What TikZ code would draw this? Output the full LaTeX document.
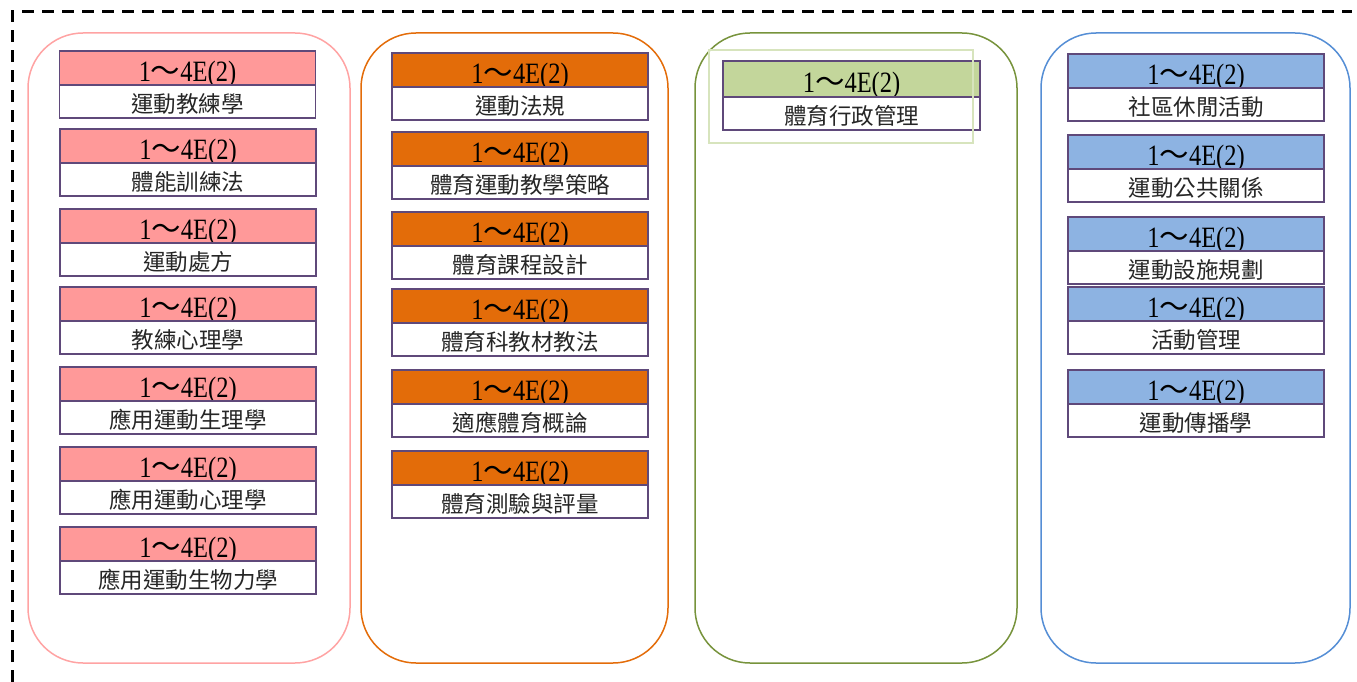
\documentclass[tikz,border=0pt]{standalone}
\usepackage{fontspec}
\setmainfont{Liberation Serif}
\newfontfamily\cjk{Noto Sans CJK TC}
\newfontfamily\numfont{Liberation Serif}[FakeStretch=0.83]
\usetikzlibrary{positioning}

\definecolor{rosa}{HTML}{FF9999}
\definecolor{rosabordo}{HTML}{FFA3A3}
\definecolor{arancio}{HTML}{E36C09}
\definecolor{verde}{HTML}{C3D69B}
\definecolor{verdebordo}{HTML}{77933C}
\definecolor{verdechiaro}{HTML}{D7E4BD}
\definecolor{azzurro}{HTML}{8DB3E2}
\definecolor{azzurrobordo}{HTML}{558ED5}
\definecolor{viola}{HTML}{5F497A}

\newcommand{\anno}{1{\cjk ～}4E(2)}

\begin{document}
\begin{tikzpicture}[x=1pt,y=-1pt,
    hdr/.style={draw=viola,line width=1.5pt,minimum width=256pt,minimum height=34pt,
        inner sep=0pt,outer sep=0pt,anchor=north,text height=27pt,text depth=0pt,
        font=\numfont\fontsize{29.5}{29.5}\selectfont},
    subj/.style={draw=viola,line width=1.5pt,fill=white,minimum width=256pt,minimum height=33pt,
        inner sep=0pt,outer sep=0pt,text=black!85,text height=22pt,text depth=0pt,
        font=\cjk\fontsize{22.5}{23}\selectfont},
    colonna/.style={line width=1.5pt,rounded corners=55pt}]
    \useasboundingbox (0,0) rectangle (1357,682);

    %%%%%%%%%% Cornice %%%%%%%%%%
    \draw[line width=3pt,dash pattern=on 12pt off 8pt] (12,682) -- (12,12) -- (1352,12);

    %%%%%%%%%% Colonne %%%%%%%%%%
    \draw[colonna,rosabordo] (28,33) rectangle (350,663);
    \draw[colonna,arancio] (361,33) rectangle (668,663);
    \draw[colonna,verdebordo] (695,33) rectangle (1017,663);
    \draw[colonna,azzurrobordo] (1041,33) rectangle (1350,663);

    %%%%%%%%%% Corsi (rosa) %%%%%%%%%%
    \node[hdr,fill=rosa] (p1h) at (187.5,51) {\anno};
    \node[subj,below=0pt of p1h] (p1b) {運動教練學};
    \node[hdr,fill=rosa] (p2h) at (188,129) {\anno};
    \node[subj,below=0pt of p2h] (p2b) {體能訓練法};
    \node[hdr,fill=rosa] (p3h) at (188,209) {\anno};
    \node[subj,below=0pt of p3h] (p3b) {運動處方};
    \node[hdr,fill=rosa] (p4h) at (188,287) {\anno};
    \node[subj,below=0pt of p4h] (p4b) {教練心理學};
    \node[hdr,fill=rosa] (p5h) at (188,367) {\anno};
    \node[subj,below=0pt of p5h] (p5b) {應用運動生理學};
    \node[hdr,fill=rosa] (p6h) at (188,447) {\anno};
    \node[subj,below=0pt of p6h] (p6b) {應用運動心理學};
    \node[hdr,fill=rosa] (p7h) at (188,527) {\anno};
    \node[subj,below=0pt of p7h] (p7b) {應用運動生物力學};

    %%%%%%%%%% Corsi (arancio) %%%%%%%%%%
    \node[hdr,fill=arancio] (o1h) at (520,53) {\anno};
    \node[subj,below=0pt of o1h] (o1b) {運動法規};
    \node[hdr,fill=arancio] (o2h) at (520,132) {\anno};
    \node[subj,below=0pt of o2h] (o2b) {體育運動教學策略};
    \node[hdr,fill=arancio] (o3h) at (520,212) {\anno};
    \node[subj,below=0pt of o3h] (o3b) {體育課程設計};
    \node[hdr,fill=arancio] (o4h) at (520,289) {\anno};
    \node[subj,below=0pt of o4h] (o4b) {體育科教材教法};
    \node[hdr,fill=arancio] (o5h) at (520,370) {\anno};
    \node[subj,below=0pt of o5h] (o5b) {適應體育概論};
    \node[hdr,fill=arancio] (o6h) at (520,451) {\anno};
    \node[subj,below=0pt of o6h] (o6b) {體育測驗與評量};

    %%%%%%%%%% Corsi (verde) %%%%%%%%%%
    \node[hdr,fill=verde,minimum width=257pt,minimum height=36pt] (g1h) at (851.5,61) {\anno};
    \node[subj,minimum width=257pt,below=0pt of g1h] (g1b) {體育行政管理};
    \draw[verdechiaro,line width=1.5pt] (709,50) rectangle (973,143);

    %%%%%%%%%% Corsi (azzurro) %%%%%%%%%%
    \node[hdr,fill=azzurro] (b1h) at (1196,54) {\anno};
    \node[subj,below=0pt of b1h] (b1b) {社區休閒活動};
    \node[hdr,fill=azzurro] (b2h) at (1196,135) {\anno};
    \node[subj,below=0pt of b2h] (b2b) {運動公共關係};
    \node[hdr,fill=azzurro] (b3h) at (1196,217) {\anno};
    \node[subj,below=0pt of b3h] (b3b) {運動設施規劃};
    \node[hdr,fill=azzurro] (b4h) at (1196,287) {\anno};
    \node[subj,below=0pt of b4h] (b4b) {活動管理};
    \node[hdr,fill=azzurro] (b5h) at (1196,370) {\anno};
    \node[subj,below=0pt of b5h] (b5b) {運動傳播學};
\end{tikzpicture}
\end{document}
